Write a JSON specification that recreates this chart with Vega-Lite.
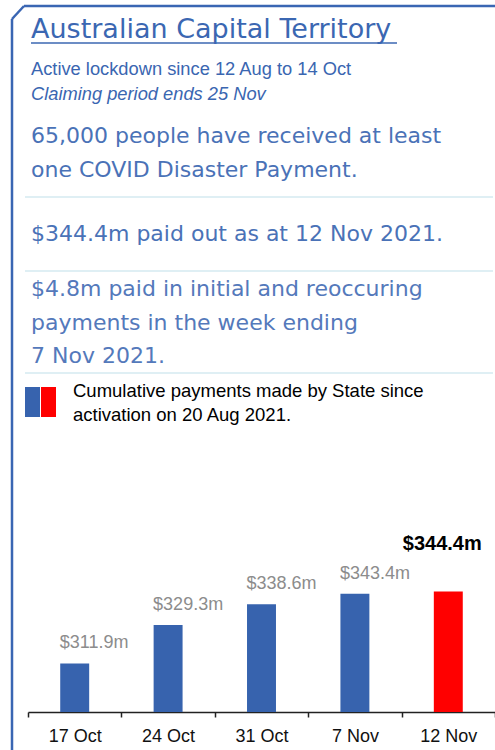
{
  "$schema": "https://vega.github.io/schema/vega-lite/v6.json",
  "autosize": {"type": "none"},
  "padding": {"left": 28, "top": 0, "right": 0, "bottom": 38},
  "width": 467,
  "height": 712,
  "background": "white",
  "config": {"view": {"stroke": null}},
  "data": {"values": [
    {"date": "17 Oct", "value": 311.9, "label": "$311.9m", "latest": "no"},
    {"date": "24 Oct", "value": 329.3, "label": "$329.3m", "latest": "no"},
    {"date": "31 Oct", "value": 338.6, "label": "$338.6m", "latest": "no"},
    {"date": "7 Nov", "value": 343.4, "label": "$343.4m", "latest": "no"},
    {"date": "12 Nov", "value": 344.4, "label": "$344.4m", "latest": "yes"}
  ]},
  "layer": [
    {
      "mark": {"type": "bar", "width": {"band": 0.31}},
      "encoding": {
        "x": {"field": "date", "type": "ordinal", "sort": null,
              "scale": {"paddingInner": 0, "paddingOuter": 0},
              "axis": {"title": null, "labelAngle": 0, "labelFont": "Liberation Sans", "labelFontSize": 18, "labelColor": "#111111",
                       "domainColor": "#222222", "domainWidth": 1.5, "tickColor": "#222222", "tickWidth": 1.5, "tickSize": 5,
                       "tickBand": "extent", "labelPadding": 10, "grid": false}},
        "y": {"field": "value", "type": "quantitative", "scale": {"domain": [290, 611.4], "zero": false, "nice": false}, "axis": null},
        "y2": {"datum": 290},
        "color": {"field": "latest", "type": "nominal", "scale": {"domain": ["no", "yes"], "range": ["#3763AE", "#FF0000"]}, "legend": null}
      }
    },
    {
      "transform": [{"filter": "datum.latest === 'no'"}],
      "mark": {"type": "text", "align": "left", "baseline": "alphabetic", "dx": -15, "dy": -15, "font": "Liberation Sans", "fontSize": 18, "color": "#8C8C8C"},
      "encoding": {
        "x": {"field": "date", "type": "ordinal", "sort": null},
        "y": {"field": "value", "type": "quantitative", "axis": null},
        "text": {"field": "label"}
      }
    },
    {
      "transform": [{"filter": "datum.latest === 'yes'"}],
      "mark": {"type": "text", "align": "center", "baseline": "alphabetic", "dx": -6, "dy": -41, "font": "Liberation Sans", "fontSize": 20, "fontWeight": "bold", "color": "#000000"},
      "encoding": {
        "x": {"field": "date", "type": "ordinal", "sort": null},
        "y": {"field": "value", "type": "quantitative", "axis": null},
        "text": {"field": "label"}
      }
    },
    {"data": {"values": [{}]}, "mark": {"type": "rule", "color": "#3A66B3", "strokeWidth": 2.5}, "encoding": {"x": {"value": -16}, "y": {"value": 19}, "x2": {"value": -16}, "y2": {"value": 750}}},
    {"data": {"values": [{}]}, "mark": {"type": "rule", "color": "#3A66B3", "strokeWidth": 2.5}, "encoding": {"x": {"value": -16}, "y": {"value": 19}, "x2": {"value": -4}, "y2": {"value": 6}}},
    {"data": {"values": [{}]}, "mark": {"type": "rule", "color": "#3A66B3", "strokeWidth": 2.5}, "encoding": {"x": {"value": -4}, "y": {"value": 6}, "x2": {"value": 470}, "y2": {"value": 6}}},
    {"data": {"values": [{}]}, "mark": {"type": "text", "text": "Australian Capital Territory", "x": 3, "y": 38, "align": "left", "baseline": "alphabetic", "font": "DejaVu Sans", "fontSize": 27, "color": "#3B67B2"}, "encoding": {}},
    {"data": {"values": [{}]}, "mark": {"type": "rule", "color": "#3B67B2", "strokeWidth": 1.5}, "encoding": {"x": {"value": 3}, "y": {"value": 43}, "x2": {"value": 369}, "y2": {"value": 43}}},
    {"data": {"values": [{}]}, "mark": {"type": "text", "text": "Active lockdown since 12 Aug to 14 Oct", "x": 3, "y": 75, "align": "left", "baseline": "alphabetic", "font": "Liberation Sans", "fontSize": 18.3, "color": "#3A66B1"}, "encoding": {}},
    {"data": {"values": [{}]}, "mark": {"type": "text", "text": "Claiming period ends 25 Nov", "x": 3, "y": 100, "align": "left", "baseline": "alphabetic", "font": "Liberation Sans", "fontSize": 18.3, "fontStyle": "italic", "color": "#3A66B1"}, "encoding": {}},
    {"data": {"values": [{}]}, "mark": {"type": "text", "text": "65,000 people have received at least", "x": 3, "y": 143, "align": "left", "baseline": "alphabetic", "font": "DejaVu Sans", "fontSize": 22, "color": "#4A72B7"}, "encoding": {}},
    {"data": {"values": [{}]}, "mark": {"type": "text", "text": "one COVID Disaster Payment.", "x": 3, "y": 177, "align": "left", "baseline": "alphabetic", "font": "DejaVu Sans", "fontSize": 22, "color": "#4A72B7"}, "encoding": {}},
    {"data": {"values": [{}]}, "mark": {"type": "rule", "color": "#D4EAF0", "strokeWidth": 1.5}, "encoding": {"x": {"value": -3}, "y": {"value": 197}, "x2": {"value": 465}, "y2": {"value": 197}}},
    {"data": {"values": [{}]}, "mark": {"type": "text", "text": "$344.4m paid out as at 12 Nov 2021.", "x": 3, "y": 241, "align": "left", "baseline": "alphabetic", "font": "DejaVu Sans", "fontSize": 22, "color": "#4A72B7"}, "encoding": {}},
    {"data": {"values": [{}]}, "mark": {"type": "rule", "color": "#D4EAF0", "strokeWidth": 1.5}, "encoding": {"x": {"value": -3}, "y": {"value": 271}, "x2": {"value": 465}, "y2": {"value": 271}}},
    {"data": {"values": [{}]}, "mark": {"type": "text", "text": "$4.8m paid in initial and reoccuring", "x": 3, "y": 296, "align": "left", "baseline": "alphabetic", "font": "DejaVu Sans", "fontSize": 22, "color": "#5479BB"}, "encoding": {}},
    {"data": {"values": [{}]}, "mark": {"type": "text", "text": "payments in the week ending", "x": 3, "y": 330, "align": "left", "baseline": "alphabetic", "font": "DejaVu Sans", "fontSize": 22, "color": "#5479BB"}, "encoding": {}},
    {"data": {"values": [{}]}, "mark": {"type": "text", "text": "7 Nov 2021.", "x": 3, "y": 363, "align": "left", "baseline": "alphabetic", "font": "DejaVu Sans", "fontSize": 22, "color": "#5479BB"}, "encoding": {}},
    {"data": {"values": [{}]}, "mark": {"type": "rule", "color": "#D4EAF0", "strokeWidth": 1.5}, "encoding": {"x": {"value": -3}, "y": {"value": 373}, "x2": {"value": 465}, "y2": {"value": 373}}},
    {"data": {"values": [{}]}, "mark": {"type": "rect", "x": -3, "x2": 12, "y": 387, "y2": 417, "color": "#3763AE"}, "encoding": {}},
    {"data": {"values": [{}]}, "mark": {"type": "rect", "x": 13, "x2": 28, "y": 387, "y2": 417, "color": "#FF0000"}, "encoding": {}},
    {"data": {"values": [{}]}, "mark": {"type": "text", "text": "Cumulative payments made by State since", "x": 45, "y": 397, "align": "left", "baseline": "alphabetic", "font": "Liberation Sans", "fontSize": 18.5, "color": "#000000"}, "encoding": {}},
    {"data": {"values": [{}]}, "mark": {"type": "text", "text": "activation on 20 Aug 2021.", "x": 45, "y": 421, "align": "left", "baseline": "alphabetic", "font": "Liberation Sans", "fontSize": 18.5, "color": "#000000"}, "encoding": {}}
  ]
}
